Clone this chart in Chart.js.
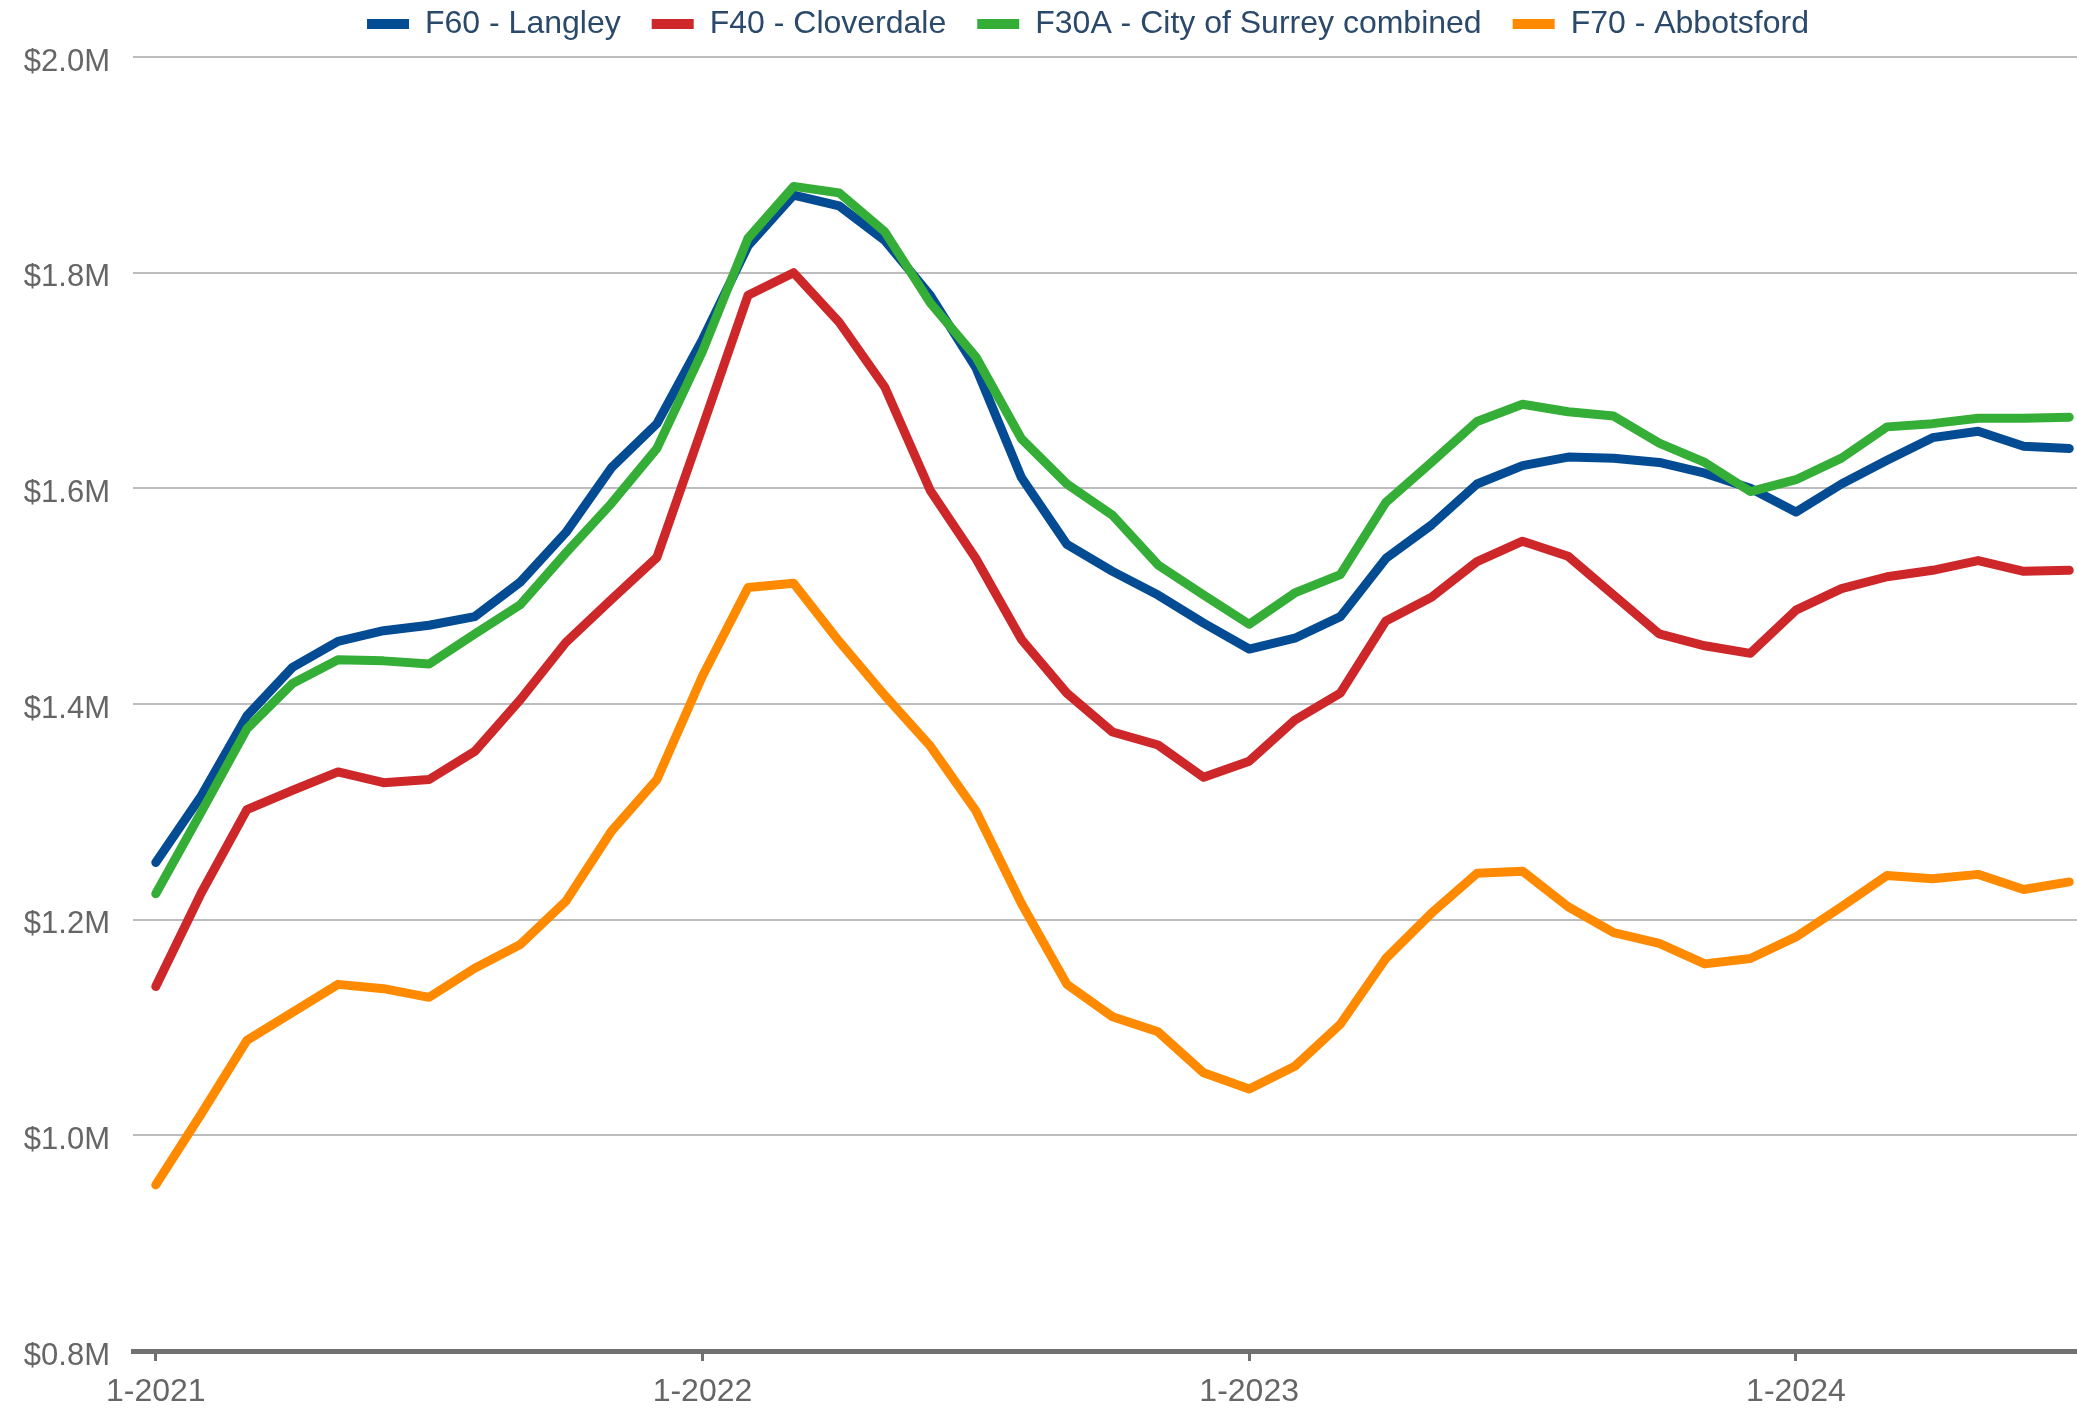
<!DOCTYPE html>
<html><head><meta charset="utf-8">
<script src="https://cdn.jsdelivr.net/npm/chart.js@4.4.1/dist/chart.umd.min.js"></script>
<style>html,body{margin:0;padding:0;background:#fff;overflow:hidden}</style>
</head><body>
<canvas id="c" width="2077" height="1409"></canvas>
<script>
const months = [
  "1-2021","2-2021","3-2021","4-2021","5-2021","6-2021","7-2021","8-2021","9-2021","10-2021","11-2021","12-2021",
  "1-2022","2-2022","3-2022","4-2022","5-2022","6-2022","7-2022","8-2022","9-2022","10-2022","11-2022","12-2022",
  "1-2023","2-2023","3-2023","4-2023","5-2023","6-2023","7-2023","8-2023","9-2023","10-2023","11-2023","12-2023",
  "1-2024","2-2024","3-2024","4-2024","5-2024","6-2024","7-2024"
];
const yTickValues = [0.8, 1.0, 1.2, 1.4, 1.6, 1.8, 2.0];
const langley = [1.253,1.315,1.389,1.434,1.458,1.468,1.473,1.481,1.513,1.559,1.619,1.660,
  1.738,1.825,1.872,1.862,1.830,1.779,1.712,1.610,1.548,1.523,1.501,1.475,
  1.451,1.461,1.481,1.535,1.566,1.604,1.621,1.629,1.628,1.624,1.614,1.600,
  1.578,1.604,1.626,1.647,1.653,1.639,1.637];
const cloverdale = [1.138,1.225,1.302,1.320,1.337,1.327,1.330,1.356,1.404,1.457,1.497,1.536,
  1.657,1.779,1.800,1.754,1.694,1.598,1.535,1.460,1.410,1.374,1.362,1.332,
  1.347,1.385,1.410,1.477,1.499,1.532,1.551,1.537,1.501,1.465,1.454,1.447,
  1.487,1.507,1.518,1.524,1.533,1.523,1.524];
const surrey = [1.224,1.300,1.377,1.419,1.441,1.440,1.437,1.465,1.492,1.540,1.586,1.637,
  1.727,1.832,1.880,1.874,1.838,1.772,1.722,1.646,1.604,1.575,1.529,1.501,
  1.474,1.503,1.520,1.587,1.624,1.662,1.678,1.671,1.667,1.642,1.624,1.597,
  1.608,1.628,1.657,1.660,1.665,1.665,1.666];
const abbotsford = [0.954,1.020,1.088,1.114,1.140,1.136,1.128,1.155,1.177,1.217,1.282,1.330,
  1.426,1.508,1.512,1.458,1.408,1.361,1.301,1.215,1.140,1.110,1.096,1.058,
  1.043,1.064,1.103,1.164,1.206,1.243,1.245,1.212,1.188,1.178,1.159,1.164,
  1.184,1.212,1.241,1.238,1.242,1.228,1.235];
const seriesNames = ["F60 - Langley", "F40 - Cloverdale", "F30A - City of Surrey combined", "F70 - Abbotsford"];
const seriesColors = ["#034b93", "#cd2729", "#34ae37", "#ff8a00"];
const seriesData = [langley, cloverdale, surrey, abbotsford];
const drawOrder = [1, 2, 0, 3];

const FONT = "'Liberation Sans', Arial, sans-serif";
const datasets = seriesData.map((vals, k) => ({
  label: seriesNames[k],
  data: vals.map((v, i) => ({x: i, y: v})),
  borderColor: seriesColors[k],
  backgroundColor: seriesColors[k],
  borderWidth: 9,
  pointRadius: 0,
  pointHoverRadius: 0,
  tension: 0,
  fill: false,
  borderCapStyle: 'round',
  borderJoinStyle: 'round',
  order: drawOrder[k]
}));

const legendShift = {
  id: 'legendShift',
  afterLayout(chart) {
    const lg = chart.legend;
    if (lg) { lg.left -= 17; lg.right -= 17; }
  }
};

new Chart(document.getElementById('c'), {
  type: 'line',
  data: { datasets },
  plugins: [legendShift],
  options: {
    responsive: false,
    animation: false,
    devicePixelRatio: 1,
    layout: { padding: { top: -23, left: 0, right: 0, bottom: 0 } },
    plugins: {
      tooltip: { enabled: false },
      legend: {
        position: 'top',
        align: 'center',
        fullSize: false,
        labels: {
          boxWidth: 42,
          boxHeight: 10,
          padding: 31,
          color: '#2b4a6b',
          font: { family: FONT, size: 32 },
          sort: (a, b) => a.datasetIndex - b.datasetIndex,
          generateLabels: (chart) => Chart.defaults.plugins.legend.labels.generateLabels(chart)
            .map(item => Object.assign(item, { lineWidth: 0 }))
        }
      }
    },
    scales: {
      x: {
        type: 'linear',
        min: -0.5,
        max: 42.17,
        afterBuildTicks: (s) => {
          s.ticks = months.map((m, i) => m.startsWith('1-') ? {value: i} : null).filter(Boolean);
        },
        afterFit: (s) => { s.height = 58; },
        grid: { drawOnChartArea: false, drawTicks: true, tickLength: 10, tickWidth: 3, tickColor: '#717171' },
        border: { display: true, color: '#717171', width: 5 },
        ticks: {
          autoSkip: false, maxRotation: 0, padding: 12,
          color: '#666', font: { family: FONT, size: 32 },
          callback: (v) => months[v]
        }
      },
      y: {
        min: 0.8,
        max: 2.0065,
        afterBuildTicks: (s) => { s.ticks = yTickValues.map(v => ({value: v})); },
        afterFit: (s) => { s.width = 133; },
        grid: { color: '#bdbdbd', lineWidth: 2, drawTicks: false },
        border: { display: false },
        ticks: {
          padding: 23,
          labelOffset: 5,
          color: '#666', font: { family: FONT, size: 31 },
          callback: (v) => '$' + Number(v).toFixed(1) + 'M'
        }
      }
    }
  }
});
</script>
</body></html>
